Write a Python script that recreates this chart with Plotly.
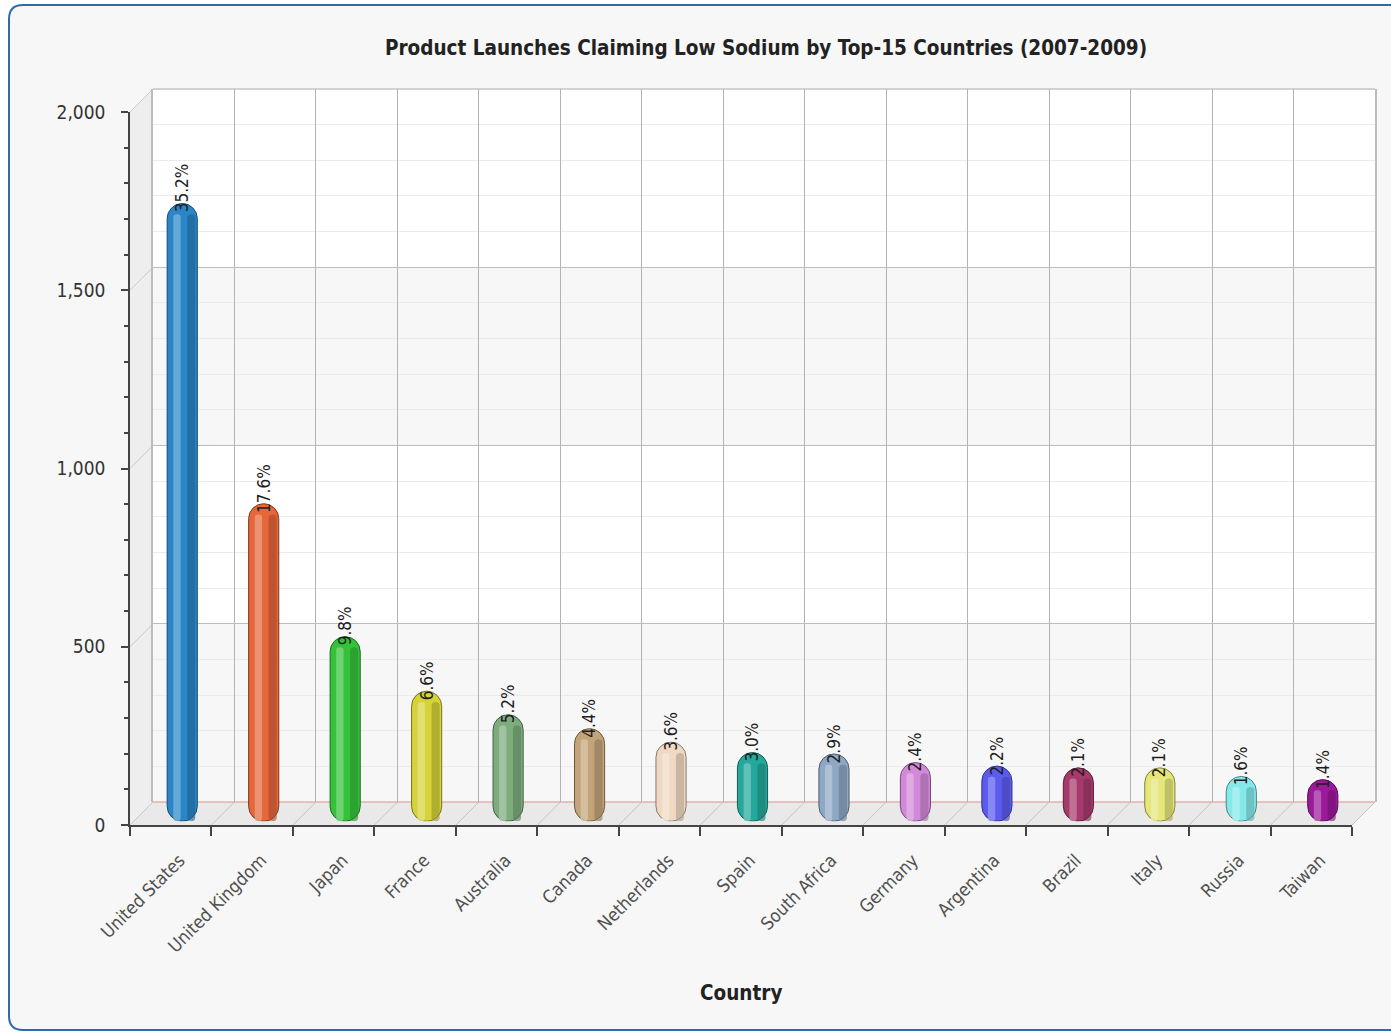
import plotly.graph_objects as go

# ---------------- data ----------------
countries = ["United States", "United Kingdom", "Japan", "France", "Australia",
             "Canada", "Netherlands", "Spain", "South Africa", "Germany",
             "Argentina", "Brazil", "Italy", "Russia", "Taiwan"]
launches = [1683, 841, 468, 315, 249, 210, 172, 143, 139, 115, 105, 100, 100, 76, 67]
share_labels = ["35.2%", "17.6%", "9.8%", "6.6%", "5.2%", "4.4%", "3.6%", "3.0%",
                "2.9%", "2.4%", "2.2%", "2.1%", "2.1%", "1.6%", "1.4%"]
bar_colors = ["#2a86c8", "#e5673a", "#35c23a", "#d5d23a", "#7dac7d",
              "#c2a478", "#f0d9c2", "#24a89c", "#8ea7c5", "#d389d9",
              "#5b5bf0", "#a63a6c", "#e6e67a", "#86e9e9", "#9a1a9a"]
y_ticks = [0, 500, 1000, 1500, 2000]
y_tick_text = ["0", "500", "1,000", "1,500", "2,000"]
title_text = "Product Launches Claiming Low Sodium by Top-15 Countries (2007-2009)"
x_title = "Country"

# ---------------- geometry (pixels) ----------------
W, H = 1391, 1032
FX0, FX1 = 130, 1352      # front x-axis extent
FYB, FYT = 825, 112       # front y-axis bottom/top
DEPTH = 23                # 3D depth offset
YMAX = 2000
K = (FYB - FYT) / YMAX    # pixels per unit
CAP = 10                  # cylinder cap rise (px)
BAR_FLOOR = -50           # cylinder bottom below floor plane (units)
SHADE_DROP = 30           # shading stripes stop below the rounded cap (units)


def px_x(v):
    return v / W


def px_y(v):
    return 1 - v / H


def dom(x0, x1, yb, yt):
    return [px_x(x0), px_x(x1)], [px_y(yb), px_y(yt)]


fxd, fyd = dom(FX0, FX1, FYB, FYT)
bxd, byd = dom(FX0 + DEPTH, FX1 + DEPTH, FYB - DEPTH, FYT - DEPTH)
mid_zero = FYB - DEPTH / 2 - CAP
mxd, myd = dom(FX0 + DEPTH / 2, FX1 + DEPTH / 2,
               mid_zero - BAR_FLOOR * K, mid_zero - YMAX * K)


def mix(hex_color, target, t):
    h = hex_color.lstrip("#")
    r, g, b = int(h[0:2], 16), int(h[2:4], 16), int(h[4:6], 16)
    tr, tg, tb = target
    r = round(r + (tr - r) * t)
    g = round(g + (tg - g) * t)
    b = round(b + (tb - b) * t)
    return f"rgb({r},{g},{b})"


light_colors = [mix(c, (255, 255, 255), 0.35) for c in bar_colors]
dark_colors = [mix(c, (0, 0, 0), 0.28) for c in bar_colors]
edge_colors = [mix(c, (0, 0, 0), 0.45) for c in bar_colors]

# cylinder spans from BAR_FLOOR up to the value
body_len = [v - BAR_FLOOR for v in launches]
shade_len = [v - BAR_FLOOR - SHADE_DROP for v in launches]

FONT = "DejaVu Sans Condensed, DejaVu Sans, sans-serif"

fig = go.Figure()

fig.add_trace(go.Scatter(x=countries, y=launches, mode="markers",
                         marker=dict(opacity=0), xaxis="x", yaxis="y",
                         hoverinfo="skip", showlegend=False))
fig.add_trace(go.Scatter(x=countries, y=launches, mode="markers",
                         marker=dict(opacity=0), xaxis="x2", yaxis="y2",
                         hoverinfo="skip", showlegend=False))

BW = 0.37
fig.add_trace(go.Bar(x=countries, y=body_len, base=BAR_FLOOR, xaxis="x3", yaxis="y3",
                     width=BW, offset=-BW / 2, customdata=launches,
                     marker=dict(color=bar_colors, cornerradius="50%",
                                 line=dict(color=edge_colors, width=1)),
                     showlegend=False, hovertemplate="%{x}: %{customdata}<extra></extra>"))
fig.add_trace(go.Bar(x=countries, y=shade_len, base=BAR_FLOOR, xaxis="x3", yaxis="y3",
                     width=0.10, offset=BW / 2 - 0.125,
                     marker=dict(color=dark_colors, cornerradius="50%",
                                 line=dict(width=0), opacity=0.6),
                     showlegend=False, hoverinfo="skip"))
fig.add_trace(go.Bar(x=countries, y=shade_len, base=BAR_FLOOR, xaxis="x3", yaxis="y3",
                     width=0.09, offset=-0.11,
                     marker=dict(color=light_colors, cornerradius="50%",
                                 line=dict(width=0), opacity=0.8),
                     showlegend=False, hoverinfo="skip"))

# ---------------- decorative 3D frame ----------------
shapes = []
r = 14
x0b, x1b, y0b, y1b = 9, W + 20, 5, 1030
path = (f"M {px_x(x0b + r)},{px_y(y0b)} L {px_x(x1b - r)},{px_y(y0b)} "
        f"Q {px_x(x1b)},{px_y(y0b)} {px_x(x1b)},{px_y(y0b + r)} "
        f"L {px_x(x1b)},{px_y(y1b - r)} Q {px_x(x1b)},{px_y(y1b)} {px_x(x1b - r)},{px_y(y1b)} "
        f"L {px_x(x0b + r)},{px_y(y1b)} Q {px_x(x0b)},{px_y(y1b)} {px_x(x0b)},{px_y(y1b - r)} "
        f"L {px_x(x0b)},{px_y(y0b + r)} Q {px_x(x0b)},{px_y(y0b)} {px_x(x0b + r)},{px_y(y0b)} Z")
shapes.append(dict(type="path", path=path, xref="paper", yref="paper",
                   fillcolor="#f7f7f7", line=dict(color="#2f6ca6", width=2), layer="below"))

shapes.append(dict(type="rect", xref="paper", yref="paper",
                   x0=bxd[0], x1=bxd[1], y0=byd[0], y1=byd[1],
                   fillcolor="#ffffff", line=dict(width=0), layer="below"))
for lo, hi in [(0, 500), (1000, 1500)]:
    shapes.append(dict(type="rect", xref="x2 domain", yref="y2",
                       x0=0, x1=1, y0=lo, y1=hi,
                       fillcolor="#f7f7f7", line=dict(width=0), layer="below"))

lw = (f"M {px_x(FX0)},{px_y(FYT)} L {px_x(FX0 + DEPTH)},{px_y(FYT - DEPTH)} "
      f"L {px_x(FX0 + DEPTH)},{px_y(FYB - DEPTH)} L {px_x(FX0)},{px_y(FYB)} Z")
shapes.append(dict(type="path", path=lw, xref="paper", yref="paper",
                   fillcolor="#eeeeee", line=dict(width=0), layer="below"))
fl = (f"M {px_x(FX0)},{px_y(FYB)} L {px_x(FX0 + DEPTH)},{px_y(FYB - DEPTH)} "
      f"L {px_x(FX1 + DEPTH)},{px_y(FYB - DEPTH)} L {px_x(FX1)},{px_y(FYB)} Z")
shapes.append(dict(type="path", path=fl, xref="paper", yref="paper",
                   fillcolor="#e9e9e9", line=dict(width=0), layer="below"))
n = len(countries)
step = (FX1 - FX0) / n
for k in range(n + 1):
    xa = FX0 + k * step
    shapes.append(dict(type="line", xref="paper", yref="paper",
                       x0=px_x(xa), y0=px_y(FYB), x1=px_x(xa + DEPTH), y1=px_y(FYB - DEPTH),
                       line=dict(color="#c4c4c4", width=1), layer="below"))
for v in y_ticks:
    yy = FYB - K * v
    shapes.append(dict(type="line", xref="paper", yref="paper",
                       x0=px_x(FX0), y0=px_y(yy), x1=px_x(FX0 + DEPTH), y1=px_y(yy - DEPTH),
                       line=dict(color="#c8c8c8", width=1), layer="below"))
shapes.append(dict(type="line", xref="paper", yref="paper",
                   x0=bxd[0], x1=bxd[1], y0=byd[0], y1=byd[0],
                   line=dict(color="#e2b0b0", width=1.5), layer="below"))
shapes.append(dict(type="line", xref="paper", yref="paper",
                   x0=bxd[0], x1=bxd[1], y0=byd[1], y1=byd[1],
                   line=dict(color="#c4c4c4", width=1.5), layer="below"))

# ---------------- annotations ----------------
annotations = []
for c, v, t in zip(countries, launches, share_labels):
    annotations.append(dict(x=c, y=v, xref="x3", yref="y3", text=t,
                            textangle=-90, showarrow=False,
                            xanchor="center", yanchor="bottom", yshift=-11,
                            font=dict(family=FONT, size=17, color="#1e1e1e")))
annotations.append(dict(x=(fxd[0] + fxd[1]) / 2, y=px_y(993), xref="paper", yref="paper",
                        text=x_title, showarrow=False, xanchor="center", yanchor="middle",
                        font=dict(family=FONT, size=20.5, color="#222222", weight="bold")))

fig.update_layout(
    width=W, height=H,
    margin=dict(l=0, r=0, t=0, b=0),
    paper_bgcolor="#ffffff",
    plot_bgcolor="rgba(0,0,0,0)",
    barmode="overlay",
    showlegend=False,
    title=dict(text=title_text, x=px_x(766), y=px_y(48), xref="paper", yref="paper",
               xanchor="center", yanchor="middle", automargin=False,
               font=dict(family=FONT, size=20.5, color="#222222", weight="bold")),
    xaxis=dict(domain=fxd, anchor="y", type="category", range=[-0.5, n - 0.5],
               categoryorder="array", categoryarray=countries, automargin=False,
               tickson="boundaries", ticks="outside", ticklen=9, tickwidth=1.5,
               tickcolor="#444444", showline=True, linecolor="#444444", linewidth=1.5,
               showgrid=False, zeroline=False, tickangle=-45,
               tickfont=dict(family=FONT, size=18, color="#505050"),
               ticklabelshift=9, ticklabelstandoff=16),
    yaxis=dict(domain=fyd, anchor="x", range=[0, YMAX], tickvals=y_ticks, automargin=False,
               ticktext=y_tick_text, ticks="outside", ticklen=7, tickwidth=1.5,
               tickcolor="#444444", showline=True, linecolor="#444444", linewidth=1.5,
               showgrid=False, zeroline=False,
               tickfont=dict(family=FONT, size=19, color="#333333"),
               ticklabelstandoff=12,
               minor=dict(tickvals=list(range(0, YMAX + 1, 100)), ticks="outside",
                          ticklen=4, tickcolor="#444444", showgrid=False)),
    xaxis2=dict(domain=bxd, anchor="y2", type="category", range=[-0.5, n - 0.5],
                categoryorder="array", categoryarray=countries, automargin=False,
                tickson="boundaries", ticks="", showticklabels=False,
                showgrid=True, gridcolor="#b3b3b3", gridwidth=1,
                showline=False, zeroline=False),
    yaxis2=dict(domain=byd, anchor="x2", range=[0, YMAX], dtick=500, automargin=False,
                showticklabels=False, ticks="", showgrid=True, gridcolor="#bdbdbd",
                gridwidth=1, zeroline=False, showline=True, mirror=True,
                linecolor="#bcbcbc", linewidth=1.5,
                minor=dict(dtick=100, showgrid=True, gridcolor="#ebebeb", gridwidth=1)),
    xaxis3=dict(domain=mxd, anchor="y3", type="category", range=[-0.5, n - 0.5],
                categoryorder="array", categoryarray=countries, visible=False,
                automargin=False),
    yaxis3=dict(domain=myd, anchor="x3", range=[BAR_FLOOR, YMAX], visible=False,
                automargin=False),
    shapes=shapes,
    annotations=annotations,
)

fig.write_html("out.html")
